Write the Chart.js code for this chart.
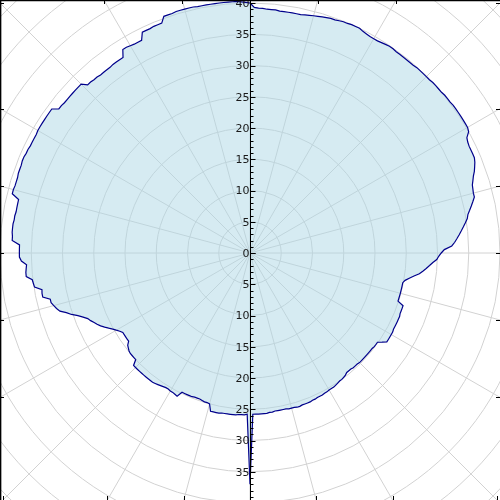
<!DOCTYPE html>
<html>
<head>
<meta charset="utf-8">
<script src="https://cdn.jsdelivr.net/npm/chart.js@4.4.0/dist/chart.umd.min.js"></script>
<style>
  html, body { margin: 0; padding: 0; background: #fff; }
  #wrap { position: relative; width: 500px; height: 500px; overflow: hidden; }
  #polar { position: absolute; left: -125px; top: -122px; }
</style>
</head>
<body>
<div id="wrap"><canvas id="polar" width="750" height="750"></canvas></div>
<script>
// one reading per degree, clockwise from the top
const degrees = Array.from({ length: 360 }, (_, i) => i);

const radius = [
  40.0, 39.3, 39.2, 39.2, 39.1, 39.1, 39.1, 39.0, 39.0, 39.0,
  39.0, 39.0, 39.0, 39.1, 39.2, 39.3, 39.4, 39.5, 39.6, 39.7,
  39.7, 39.8, 39.9, 39.9, 40.0, 40.0, 40.0, 39.8, 39.7, 39.6,
  39.6, 39.6, 39.7, 39.8, 39.9, 39.9, 39.8, 39.8, 39.8, 39.8,
  39.8, 39.8, 39.9, 39.9, 39.9, 39.9, 39.9, 40.0, 40.0, 40.0,
  40.0, 40.1, 40.1, 40.1, 40.2, 40.2, 40.2, 40.2, 40.2, 40.2,
  40.2, 40.0, 39.3, 39.1, 39.0, 39.0, 39.0, 39.0, 38.8, 38.5,
  38.2, 37.8, 37.5, 37.2, 37.1, 37.0, 37.0, 36.6, 36.2, 35.8,
  35.4, 35.2, 34.8, 34.4, 34.0, 33.6, 33.2, 32.8, 32.3, 31.1,
  30.6, 30.2, 29.9, 29.3, 28.8, 28.3, 27.8, 27.3, 26.5, 25.8,
  25.2, 24.9, 24.9, 24.9, 24.9, 24.9, 24.9, 24.9, 24.9, 25.9,
  25.9, 25.9, 25.9, 26.0, 26.0, 26.0, 26.0, 26.0, 26.0, 26.1,
  26.1, 26.1, 26.1, 26.1, 25.5, 24.9, 24.9, 24.9, 24.8, 24.8,
  24.8, 24.8, 24.8, 24.8, 24.8, 24.8, 24.7, 24.7, 24.7, 24.6,
  24.6, 24.6, 24.8, 24.9, 25.0, 25.0, 25.1, 25.2, 25.3, 25.3,
  25.3, 25.4, 25.4, 25.5, 25.5, 25.5, 25.6, 25.6, 25.7, 25.7,
  25.7, 25.7, 25.8, 25.8, 25.7, 25.7, 25.7, 25.6, 25.6, 25.6,
  25.6, 25.6, 25.7, 25.7, 25.8, 25.8, 25.8, 25.8, 25.8, 25.8,
  37.0, 25.8, 25.9, 25.9, 25.9, 26.0, 26.0, 26.0, 26.0, 26.0,
  26.0, 26.1, 26.1, 26.1, 26.1, 25.0, 24.9, 24.9, 24.8, 24.7,
  24.7, 24.7, 24.8, 24.8, 24.8, 24.8, 24.8, 25.7, 25.6, 25.5,
  25.5, 25.4, 25.4, 25.5, 25.6, 25.7, 25.8, 25.9, 25.9, 25.9,
  25.9, 25.9, 25.9, 25.9, 25.9, 25.9, 25.9, 25.0, 25.0, 25.0,
  25.0, 24.9, 24.7, 24.5, 24.0, 24.0, 24.0, 24.0, 24.0, 24.3,
  24.7, 25.1, 25.6, 26.1, 26.6, 27.0, 27.3, 27.7, 28.0, 28.6,
  29.3, 30.2, 30.9, 31.8, 32.2, 32.5, 32.8, 32.8, 33.9, 33.9,
  33.8, 34.9, 35.0, 35.1, 36.0, 36.0, 35.9, 35.8, 36.6, 36.9,
  36.9, 36.9, 36.9, 38.1, 38.1, 38.2, 38.2, 38.2, 38.1, 38.1,
  38.0, 38.0, 38.0, 38.0, 39.2, 39.2, 39.1, 39.1, 39.1, 39.2,
  39.2, 39.2, 39.3, 39.3, 39.2, 39.2, 39.1, 39.1, 39.1, 39.1,
  39.2, 39.2, 39.2, 39.2, 39.2, 39.2, 39.2, 38.3, 38.3, 38.2,
  38.2, 38.2, 38.2, 38.2, 38.2, 38.2, 37.4, 37.4, 37.3, 37.3,
  37.2, 37.2, 37.2, 37.2, 37.3, 37.3, 37.3, 37.3, 38.4, 38.4,
  38.3, 38.2, 38.2, 38.2, 39.3, 39.3, 39.3, 39.4, 39.4, 39.4,
  40.3, 40.3, 40.3, 40.4, 40.4, 40.4, 40.4, 40.4, 40.3, 40.3,
  40.3, 40.3, 40.3, 40.3, 40.3, 40.3, 40.3, 40.3, 40.2, 40.1
];

const upTickLabels = ['0', '5', '10', '15', '20', '25', '30', '35', '40'];
const downTickLabels = ['5', '10', '15', '20', '25', '30', '35'];
const rMax = 60;
const rStep = 5;
const spokeEvery = 15;

// visible 500x500 window inside the bigger canvas
const VIEW = { x: 125, y: 122, w: 500, h: 500 };
const gridColor = '#d2d2d2';

const polarAxis = {
    id: 'polarAxis',
    afterDatasetsDraw(chart) {
        const r = chart.scales.r;
        const ctx = chart.ctx;
        const cx = r.xCenter + 0.5;
        const cy = r.yCenter;

        ctx.save();
        ctx.strokeStyle = '#000';
        ctx.lineWidth = 1;

        // vertical radial axis through the centre
        ctx.beginPath();
        ctx.moveTo(cx, VIEW.y);
        ctx.lineTo(cx, VIEW.y + VIEW.h);
        ctx.stroke();

        // minor and major ticks, up and down
        ctx.beginPath();
        for (let v = 0; v <= 40; v++) {
            const d = r.getDistanceFromCenterForValue(v);
            const len = v % 5 === 0 ? 5 : 3;
            [cy - d, cy + d].forEach(y => {
                const yy = Math.round(y) + 0.5;
                ctx.moveTo(cx, yy);
                ctx.lineTo(cx + len, yy);
            });
        }
        ctx.stroke();

        ctx.font = '11px "DejaVu Sans"';
        ctx.fillStyle = '#1a1a1a';
        ctx.textAlign = 'right';
        ctx.textBaseline = 'middle';
        upTickLabels.forEach(t => {
            ctx.fillText(t, cx - 1, cy - r.getDistanceFromCenterForValue(+t) + 1);
        });
        downTickLabels.forEach(t => {
            ctx.fillText(t, cx - 1, cy + r.getDistanceFromCenterForValue(+t) + 1);
        });

        // frame (left and top visible) with ticks where spokes meet it
        ctx.lineWidth = 1.5;
        ctx.beginPath();
        ctx.moveTo(VIEW.x + 0.6, VIEW.y);
        ctx.lineTo(VIEW.x + 0.6, VIEW.y + VIEW.h);
        ctx.moveTo(VIEW.x, VIEW.y + 0.6);
        ctx.lineTo(VIEW.x + VIEW.w, VIEW.y + 0.6);
        ctx.stroke();

        ctx.lineWidth = 1;
        ctx.beginPath();
        const x0 = VIEW.x, x1 = VIEW.x + VIEW.w, y0 = VIEW.y, y1 = VIEW.y + VIEW.h;
        for (let a = 0; a < 360; a += spokeEvery) {
            const rad = a * Math.PI / 180;
            const dx = Math.sin(rad), dy = -Math.cos(rad);
            const hits = [];
            if (dx < -1e-6) hits.push({ t: (x0 - r.xCenter) / dx, side: 'l' });
            if (dx > 1e-6) hits.push({ t: (x1 - r.xCenter) / dx, side: 'r' });
            if (dy < -1e-6) hits.push({ t: (y0 - cy) / dy, side: 't' });
            if (dy > 1e-6) hits.push({ t: (y1 - cy) / dy, side: 'b' });
            hits.sort((p, q) => p.t - q.t);
            const h = hits[0];
            const px = Math.round(r.xCenter + dx * h.t) + 0.5;
            const py = Math.round(cy + dy * h.t) + 0.5;
            if (h.side === 'l') { ctx.moveTo(x0, py); ctx.lineTo(x0 + 4, py); }
            if (h.side === 'r') { ctx.moveTo(x1, py); ctx.lineTo(x1 - 4, py); }
            if (h.side === 't') { ctx.moveTo(px, y0); ctx.lineTo(px, y0 + 4); }
            if (h.side === 'b') { ctx.moveTo(px, y1); ctx.lineTo(px, y1 - 4); }
        }
        ctx.stroke();
        ctx.restore();
    }
};

new Chart(document.getElementById('polar').getContext('2d'), {
    type: 'radar',
    data: {
        labels: degrees,
        datasets: [{
            data: radius,
            borderColor: '#00008b',
            backgroundColor: 'rgba(173, 216, 230, 0.5)',
            borderWidth: 1.2,
            fill: true,
            tension: 0,
            pointRadius: 0,
            pointHoverRadius: 0
        }]
    },
    options: {
        responsive: false,
        animation: false,
        layout: { padding: 0 },
        plugins: { legend: { display: false }, tooltip: { enabled: false } },
        scales: {
            r: {
                min: 0,
                max: rMax,
                ticks: { display: false, stepSize: rStep },
                pointLabels: { display: false },
                grid: { circular: true, color: gridColor, lineWidth: 1 },
                angleLines: {
                    color: gridColor,
                    lineWidth: ctx => (ctx.index % spokeEvery === 0 ? 1 : 0)
                }
            }
        }
    },
    plugins: [polarAxis]
});
</script>
</body>
</html>
